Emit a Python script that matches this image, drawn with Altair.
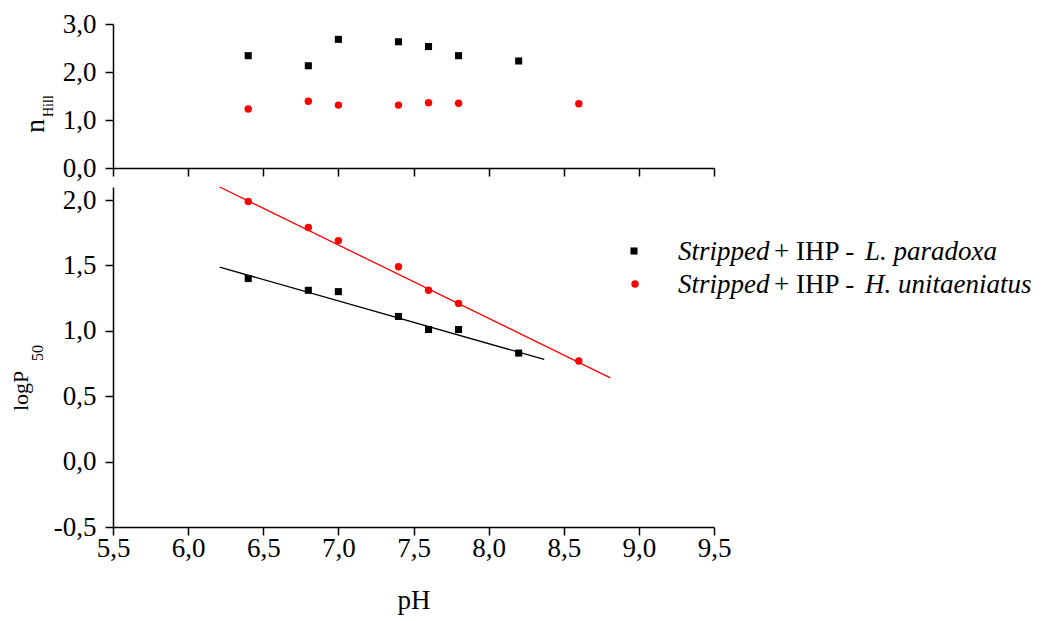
import altair as alt
import pandas as pd

# ---- data ----
PH_L = [6.4, 6.8, 7.0, 7.4, 7.6, 7.8, 8.2]          # L. paradoxa
NHILL_L = [2.34, 2.13, 2.68, 2.63, 2.53, 2.34, 2.23]
LOGP_L = [1.40, 1.31, 1.30, 1.11, 1.01, 1.01, 0.83]

PH_H = [6.4, 6.8, 7.0, 7.4, 7.6, 7.8, 8.6]          # H. unitaeniatus
NHILL_H = [1.23, 1.39, 1.31, 1.31, 1.36, 1.35, 1.34]
LOGP_H = [1.99, 1.79, 1.69, 1.49, 1.31, 1.21, 0.77]

FIT_L_PH = [6.21, 8.37]
FIT_L_Y = [1.487, 0.781]
FIT_H_PH = [6.21, 8.81]
FIT_H_Y = [2.10, 0.641]

X_TICKS = [5.5, 5.75, 6.0, 6.25, 6.5, 6.75, 7.0, 7.25, 7.5, 7.75, 8.0, 8.25,
           8.5, 8.75, 9.0, 9.25, 9.5]
NH_TICKS = [0.0, 0.25, 0.5, 0.75, 1.0, 1.25, 1.5, 1.75, 2.0, 2.25, 2.5, 2.75, 3.0]
LP_TICKS = [-0.5, -0.25, 0.0, 0.25, 0.5, 0.75, 1.0, 1.25, 1.5, 1.75, 2.0]

FONT = "Liberation Serif"
BLACK = "#000000"
RED = "#FF0000"
W = 601
H_TOP = 144
H_BOT = 340

MINOR = "abs(datum.value*2 - round(datum.value*2)) > 0.01"
LABEL_EXPR = (MINOR + " ? '' : replace(replace(format(datum.value, '.1f'), '.', ','), '\u2212', '-')")
TICK_SIZE = {"condition": {"test": MINOR, "value": 4}, "value": 8}


def axis(values, labels=True, title=None, **kw):
    kw["title"] = title
    return alt.Axis(values=values, grid=False, labels=labels,
                    labelExpr=LABEL_EXPR, labelOverlap=False, labelFlush=False,
                    tickSize=TICK_SIZE, domainColor=BLACK, domainWidth=1.5,
                    tickColor=BLACK, tickWidth=1.5, labelFont=FONT,
                    labelFontSize=27, labelColor=BLACK, **kw)


def txt(text, x, y, size, style="normal", angle=0, align="left"):
    return alt.Chart(pd.DataFrame({"t": [text]})).mark_text(
        font=FONT, fontSize=size, fontStyle=style, angle=angle, align=align,
        baseline="alphabetic", color=BLACK
    ).encode(x=alt.value(x), y=alt.value(y), text="t:N")


xs = alt.Scale(domain=[5.5, 9.5], nice=False, zero=False)

# ---- top panel: nHill ----
top_pts_l = alt.Chart(pd.DataFrame({"pH": PH_L, "v": NHILL_L})).mark_point(
    shape="square", filled=True, size=50, color=BLACK, opacity=1
).encode(
    x=alt.X("pH:Q", scale=xs, axis=axis(X_TICKS, labels=False)),
    y=alt.Y("v:Q", scale=alt.Scale(domain=[0, 3], nice=False),
            axis=axis(NH_TICKS, labelPadding=9)),
)
top_pts_h = alt.Chart(pd.DataFrame({"pH": PH_H, "v": NHILL_H})).mark_point(
    shape="circle", filled=True, size=55, color=RED, opacity=1
).encode(x="pH:Q", y="v:Q")

top = alt.layer(
    top_pts_l, top_pts_h,
    txt("n", -69, 95, 28, angle=270, align="right"),
    txt("Hill", -60, 93, 14, angle=270),
).properties(width=W, height=H_TOP)

# ---- bottom panel: logP50 ----
bot_x = alt.X("pH:Q", scale=xs,
              axis=axis(X_TICKS, labelPadding=0, title="pH", titleFont=FONT,
                        titleFontSize=27, titleFontWeight="normal",
                        titleColor=BLACK, titlePadding=26))
bot_y = alt.Y("v:Q", scale=alt.Scale(domain=[-0.5, 2.1], nice=False, zero=False),
              axis=axis(LP_TICKS, labelPadding=9))

fit_l = alt.Chart(pd.DataFrame({"pH": FIT_L_PH, "v": FIT_L_Y})).mark_line(
    color=BLACK, strokeWidth=1.3).encode(x=bot_x, y=bot_y)
fit_h = alt.Chart(pd.DataFrame({"pH": FIT_H_PH, "v": FIT_H_Y})).mark_line(
    color=RED, strokeWidth=1.3).encode(x="pH:Q", y="v:Q")
bot_pts_l = alt.Chart(pd.DataFrame({"pH": PH_L, "v": LOGP_L})).mark_point(
    shape="square", filled=True, size=50, color=BLACK, opacity=1
).encode(x="pH:Q", y="v:Q")
bot_pts_h = alt.Chart(pd.DataFrame({"pH": PH_H, "v": LOGP_H})).mark_point(
    shape="circle", filled=True, size=55, color=RED, opacity=1
).encode(x="pH:Q", y="v:Q")

one = pd.DataFrame({"k": [0]})
leg_sq = alt.Chart(one).mark_point(shape="square", filled=True, size=50,
                                   color=BLACK, opacity=1).encode(
    x=alt.value(521), y=alt.value(64))
leg_ci = alt.Chart(one).mark_point(shape="circle", filled=True, size=55,
                                   color=RED, opacity=1).encode(
    x=alt.value(522), y=alt.value(97))

bottom = alt.layer(
    fit_l, fit_h, bot_pts_l, bot_pts_h, leg_sq, leg_ci,
    txt("Stripped", 565, 73, 27, style="italic"),
    txt("+ IHP -", 661, 73, 27),
    txt("L. paradoxa", 752, 73, 27, style="italic"),
    txt("Stripped", 565, 106, 27, style="italic"),
    txt("+ IHP -", 661, 106, 27),
    txt("H. unitaeniatus", 752, 106, 27, style="italic"),
    txt("logP", -85, 224, 22, angle=270),
    txt("50", -70, 174, 16, angle=270),
).properties(width=W, height=H_BOT)

chart = alt.vconcat(top, bottom, spacing=3).properties(
    padding={"left": 10, "top": 10, "right": 5, "bottom": 5},
    background="white",
).configure_view(stroke=None)

chart.save("out.html", embed_options={"renderer": "svg", "actions": False})
